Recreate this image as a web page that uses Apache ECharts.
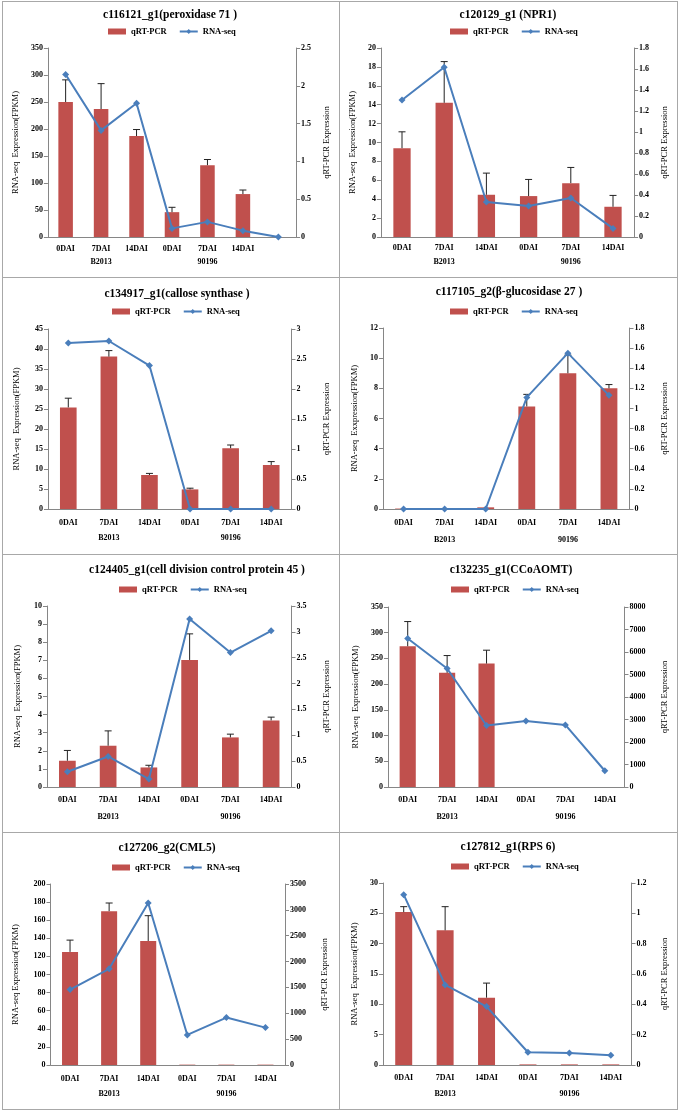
<!DOCTYPE html>
<html><head><meta charset="utf-8">
<script src="https://cdn.jsdelivr.net/npm/echarts@6/dist/echarts.min.js"></script>
<style>
html,body{margin:0;padding:0;background:#fff;width:682px;height:1113px;overflow:hidden;}
.panel{position:absolute;box-sizing:border-box;border:1px solid #a8a8a8;background:#fff;}
</style></head><body>
<div id="p1" class="panel" style="left:2px;top:1px;width:338px;height:277px"></div>
<div id="p2" class="panel" style="left:339px;top:1px;width:339px;height:277px"></div>
<div id="p3" class="panel" style="left:2px;top:277px;width:338px;height:278px"></div>
<div id="p4" class="panel" style="left:339px;top:277px;width:339px;height:278px"></div>
<div id="p5" class="panel" style="left:2px;top:554px;width:338px;height:279px"></div>
<div id="p6" class="panel" style="left:339px;top:554px;width:339px;height:279px"></div>
<div id="p7" class="panel" style="left:2px;top:832px;width:338px;height:278px"></div>
<div id="p8" class="panel" style="left:339px;top:832px;width:339px;height:278px"></div>
<script>
// ---------- shared labels ----------
const stageLabels = ['0DAI', '7DAI', '14DAI', '0DAI', '7DAI', '14DAI'];
const stageLabels7 = ['0DAI', '7DAI', '14DAI', '0DAI', '7DAI', '14DAI', ''];
const groupLabels = ['', 'B2013', '', '', '90196', ''];
const groupLabels7 = ['', 'B2013', '', '', '90196', '', ''];
const legendNames = ['qRT-PCR', 'RNA-seq'];
const rightName = 'qRT-PCR Expression';

// ---------- panel 1 ----------
const p1Title = 'c116121_g1(peroxidase 71 )';
const p1LeftName = 'RNA-seq  Expression(FPKM)';
const p1Bars = [250, 237, 187, 46, 133, 79.5];
const p1Err = [41, 47, 12, 9, 10.5, 7.5];
const p1Line = [2.15, 1.41, 1.77, 0.114, 0.2, 0.084, 0];
const p1LeftTicks = [0, 350, 50];
const p1RightTicks = [0, 2.5, 0.5];

// ---------- panel 2 ----------
const p2Title = 'c120129_g1 (NPR1)';
const p2LeftName = 'RNA-seq  Expression(FPKM)';
const p2Bars = [9.4, 14.2, 4.47, 4.33, 5.7, 3.2];
const p2Err = [1.73, 4.36, 2.29, 1.76, 1.66, 1.2];
const p2Line = [1.305, 1.616, 0.333, 0.295, 0.371, 0.082];
const p2LeftTicks = [0, 20, 2];
const p2RightTicks = [0, 1.8, 0.2];

// ---------- panel 3 ----------
const p3Title = 'c134917_g1(callose synthase )';
const p3LeftName = 'RNA-seq  Expression(FPKM)';
const p3Bars = [25.4, 38.1, 8.5, 4.9, 15.2, 11.0];
const p3Err = [2.3, 1.5, 0.4, 0.3, 0.8, 0.85];
const p3Line = [2.766, 2.80, 2.39, 0, 0, 0];
const p3LeftTicks = [0, 45, 5];
const p3RightTicks = [0, 3, 0.5];

// ---------- panel 4 ----------
const p4Title = 'c117105_g2(\u03b2-glucosidase 27 )';
const p4LeftName = 'RNA-seq  Exxpression(FPKM)';
const p4Bars = [0.03, 0.03, 0.11, 6.8, 9.0, 8.0];
const p4Err = [null, null, null, 0.8, 1.2, 0.25];
const p4Line = [0, 0, 0, 1.11, 1.55, 1.13];
const p4LeftTicks = [0, 12, 2];
const p4RightTicks = [0, 1.8, 0.2];

// ---------- panel 5 ----------
const p5Title = 'c124405_g1(cell division control protein 45 )';
const p5LeftName = 'RNA-seq  Expression(FPKM)';
const p5Bars = [1.45, 2.28, 1.08, 7.02, 2.74, 3.68];
const p5Err = [0.57, 0.82, 0.12, 1.44, 0.18, 0.18];
const p5Line = [0.296, 0.59, 0.154, 3.25, 2.6, 3.02];
const p5LeftTicks = [0, 10, 1];
const p5RightTicks = [0, 3.5, 0.5];

// ---------- panel 6 ----------
const p6Title = 'c132235_g1(CCoAOMT)';
const p6LeftName = 'RNA-seq  Expression(FPKM)';
const p6Bars = [273.7, 222, 240, null, null, null];
const p6Err = [48, 33.6, 26, null, null, null];
const p6Line = [6598, 5269, 2731, 2937, 2760, 723];
const p6LeftTicks = [0, 350, 50];
const p6RightTicks = [0, 8000, 1000];

// ---------- panel 7 ----------
const p7Title = 'c127206_g2(CML5)';
const p7LeftName = 'RNA-seq Expression(FPKM)';
const p7Bars = [125, 170, 137, 0.4, 0.4, 0.4];
const p7Err = [13, 9, 28, null, null, null];
const p7Line = [1459, 1860, 3132, 581, 917, 723];
const p7LeftTicks = [0, 200, 20];
const p7RightTicks = [0, 3500, 500];

// ---------- panel 8 ----------
const p8Title = 'c127812_g1(RPS 6)';
const p8LeftName = 'RNA-seq  Expression(FPKM)';
const p8Bars = [25.2, 22.2, 11.1, 0.1, 0.1, 0.1];
const p8Err = [0.9, 3.9, 2.4, null, null, null];
const p8Line = [1.123, 0.528, 0.385, 0.084, 0.079, 0.064];
const p8LeftTicks = [0, 30, 5];
const p8RightTicks = [0, 1.2, 0.2];

// ---------- styling / layout ----------
const FONT = "'Liberation Serif', 'Times New Roman', serif";
const BAR = '#C0504D';
const LINE = '#4A7EBB';
const AX = '#868686';

function build(d, L) {
  const errData = d.bars.map((v, i) => [i, v, d.err[i]]).filter(r => r[1] != null && r[2] != null);
  const tick = {fontFamily: FONT, fontSize: 8, fontWeight: 'bold', color: '#000'};
  const nameStyle = {fontFamily: FONT, fontSize: 8.5, color: '#000'};
  const yBase = (t, name, gap, pos) => ({
    type: 'value', position: pos, min: t[0], max: t[1], interval: t[2],
    name: name, nameLocation: 'middle', nameRotate: 90, nameGap: gap, nameTextStyle: nameStyle,
    axisLine: {show: true, lineStyle: {color: AX}},
    axisTick: {show: true, length: 4, lineStyle: {color: AX}},
    splitLine: {show: false},
    axisLabel: Object.assign({margin: 5, formatter: v => String(+Number(v).toFixed(6))}, tick)
  });
  return {
    animation: false,
    textStyle: {fontFamily: FONT},
    title: {text: d.title, left: L.title[0], top: L.title[1], textAlign: 'center', textVerticalAlign: 'middle', padding: 0,
      textStyle: {fontFamily: FONT, fontSize: 11.5, fontWeight: 'bold', color: '#000'}},
    legend: {data: [{name: legendNames[0], icon: 'rect'}, {name: legendNames[1]}],
      left: L.legend[0] - 58, top: L.legend[1] - 5, padding: 0, itemGap: 12, itemWidth: 18, itemHeight: 6,
      textStyle: {fontFamily: FONT, fontSize: 8.5, fontWeight: 'bold', color: '#000'}},
    grid: {left: L.grid[0], top: L.grid[1], width: L.grid[2], height: L.grid[3]},
    xAxis: [
      {type: 'category', data: d.cats, axisLine: {lineStyle: {color: AX}},
        axisTick: {length: 3, lineStyle: {color: AX}},
        axisLabel: Object.assign({interval: 0, margin: L.cat}, tick)},
      {type: 'category', data: d.groups, position: 'bottom', offset: L.grp,
        axisLine: {show: false}, axisTick: {show: false},
        axisLabel: Object.assign({interval: 0, margin: L.cat}, tick)}
    ],
    yAxis: [yBase(d.left, d.leftName, L.gap[0], 'left'), yBase(d.right, rightName, L.gap[1], 'right')],
    series: [
      {name: legendNames[0], type: 'bar', xAxisIndex: 0, yAxisIndex: 0, data: d.bars, barWidth: '41%',
        itemStyle: {color: BAR}, z: 2},
      {name: 'err', type: 'custom', xAxisIndex: 0, yAxisIndex: 0, data: errData, z: 3,
        renderItem: (params, api) => {
          const i = api.value(0), v = api.value(1), e = api.value(2);
          const b = api.coord([i, v]), t = api.coord([i, v + e]);
          const c = 3.5;
          return {type: 'group', children: [
            {type: 'line', shape: {x1: b[0], y1: b[1], x2: t[0], y2: t[1]}, style: {stroke: '#222', lineWidth: 1}},
            {type: 'line', shape: {x1: t[0] - c, y1: t[1], x2: t[0] + c, y2: t[1]}, style: {stroke: '#222', lineWidth: 1}}
          ]};
        }},
      {name: legendNames[1], type: 'line', xAxisIndex: 0, yAxisIndex: 1, data: d.line,
        symbol: 'diamond', symbolSize: 7, lineStyle: {color: LINE, width: 2},
        itemStyle: {color: LINE}, z: 4}
    ]
  };
}

const panels = [
  ['p1', {title: p1Title, leftName: p1LeftName, cats: stageLabels7, groups: groupLabels7, bars: p1Bars, err: p1Err, line: p1Line, left: p1LeftTicks, right: p1RightTicks},
    {grid: [40, 46, 254, 189], title: [167, 13], legend: [163, 30], gap: [21.5, 25.5], cat: 8, grp: 13}],
  ['p2', {title: p2Title, leftName: p2LeftName, cats: stageLabels, groups: groupLabels, bars: p2Bars, err: p2Err, line: p2Line, left: p2LeftTicks, right: p2RightTicks},
    {grid: [38, 46, 259, 189], title: [168, 13], legend: [168, 30], gap: [19.5, 24.5], cat: 7, grp: 14}],
  ['p3', {title: p3Title, leftName: p3LeftName, cats: stageLabels, groups: groupLabels, bars: p3Bars, err: p3Err, line: p3Line, left: p3LeftTicks, right: p3RightTicks},
    {grid: [45, 51, 244, 180], title: [174, 16], legend: [167, 34], gap: [26.5, 30.5], cat: 10, grp: 15}],
  ['p4', {title: p4Title, leftName: p4LeftName, cats: stageLabels, groups: groupLabels, bars: p4Bars, err: p4Err, line: p4Line, left: p4LeftTicks, right: p4RightTicks},
    {grid: [43, 50, 248, 181], title: [169, 14], legend: [168, 34], gap: [22.5, 30.5], cat: 10, grp: 17}],
  ['p5', {title: p5Title, leftName: p5LeftName, cats: stageLabels, groups: groupLabels, bars: p5Bars, err: p5Err, line: p5Line, left: p5LeftTicks, right: p5RightTicks},
    {grid: [44, 51, 246, 181], title: [194, 15], legend: [174, 35], gap: [24.5, 30.5], cat: 9, grp: 17}],
  ['p6', {title: p6Title, leftName: p6LeftName, cats: stageLabels, groups: groupLabels, bars: p6Bars, err: p6Err, line: p6Line, left: p6LeftTicks, right: p6RightTicks},
    {grid: [48, 52, 240, 180], title: [171, 15], legend: [169, 35], gap: [27.5, 35.5], cat: 9, grp: 17}],
  ['p7', {title: p7Title, leftName: p7LeftName, cats: stageLabels, groups: groupLabels, bars: p7Bars, err: p7Err, line: p7Line, left: p7LeftTicks, right: p7RightTicks},
    {grid: [46, 51, 236, 181], title: [164, 15], legend: [167, 35], gap: [30.5, 35.5], cat: 10, grp: 15}],
  ['p8', {title: p8Title, leftName: p8LeftName, cats: stageLabels, groups: groupLabels, bars: p8Bars, err: p8Err, line: p8Line, left: p8LeftTicks, right: p8RightTicks},
    {grid: [43, 50, 250, 182], title: [168, 14], legend: [169, 34], gap: [23.5, 28.5], cat: 9, grp: 16}]
];

panels.forEach(([id, d, L]) => {
  const chart = echarts.init(document.getElementById(id), null, {renderer: 'canvas'});
  chart.setOption(build(d, L));
});
</script>
</body></html>
